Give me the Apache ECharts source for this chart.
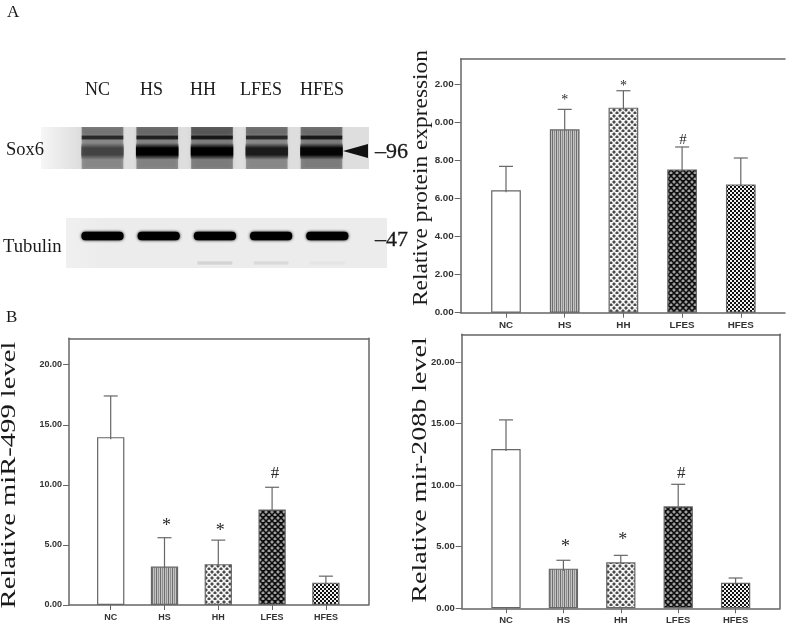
<!DOCTYPE html>
<html>
<head>
<meta charset="utf-8">
<style>
  html, body { margin: 0; background: #fff; }
  #chart { width: 787px; height: 631px; }
</style>
<script src="https://cdn.jsdelivr.net/npm/echarts@6/dist/echarts.min.js"></script>
</head>
<body>
<div id="chart"></div>
<script>
const categories = ['NC', 'HS', 'HH', 'LFES', 'HFES'];

// protein panel: the source figure has the leading digit of 12.00 / 10.00 cut off
const proteinMeans = [6.44, 9.65, 10.79, 7.54, 6.75];
const proteinUpper = [7.7, 10.7, 11.68, 8.72, 8.14];
const proteinTicks = [0, 2, 4, 6, 8, 10, 12];
const proteinTickLabels = ['0.00', '2.00', '4.00', '6.00', '8.00', '0.00', '2.00'];
const proteinMarks = [[1, 11.3, '*'], [2, 12.0, '*'], [3, 9.14, '#']];

const mir499Means = [13.97, 3.2, 3.4, 7.95, 1.86];
const mir499Upper = [17.4, 5.6, 5.4, 9.8, 2.4];
const mir499Marks = [[1, 6.9, '*'], [2, 6.45, '*'], [3, 11, '#']];

const mir208Means = [12.94, 3.22, 3.73, 8.28, 2.08];
const mir208Upper = [15.3, 3.9, 4.3, 10.07, 2.46];
const mir208Marks = [[1, 5.28, '*'], [2, 5.82, '*'], [3, 11.04, '#']];

const mirTicks = [0, 5, 10, 15, 20];
const mirTickLabels = ['0.00', '5.00', '10.00', '15.00', '20.00'];

// blot band darkness per lane, 0 = nothing, 1 = black
const sox6Lanes = [0.32, 0.34, 0.36, 0.32, 0.36];
const sox6TopSmear = [0.15, 0.2, 0.3, 0.2, 0.15];
const sox6UpperBand = [0.7, 0.75, 0.8, 0.7, 0.8];
const sox6LowerBand = [0.5, 1, 1, 0.8, 0.97];
const tubulinBand = [1, 1, 1, 1, 1];
const tubulinFaint = [0, 0, 0.1, 0.08, 0.03];

const AXIS_COLOR = '#666666';
const SERIF = '"Liberation Serif", serif';
const SANS = '"Liberation Sans", Arial, sans-serif';

function patternCanvas(size, draw) {
  const c = document.createElement('canvas');
  c.width = size;
  c.height = size;
  draw(c.getContext('2d'));
  return { image: c, repeat: 'repeat' };
}

function fill(ctx, color, cells) {
  ctx.fillStyle = color;
  cells.forEach(([x, y, w, h]) => ctx.fillRect(x, y, w, h));
}

// small square dots on a diagonal lattice, with a softer halo round each
function latticeDots(ctx, core, halo) {
  fill(ctx, halo, [[0, 1, 4, 2], [1, 0, 2, 4], [3, 4, 4, 2], [4, 3, 2, 4], [-3, 4, 4, 2]]);
  fill(ctx, core, [[1, 1, 2, 2], [4, 4, 2, 2]]);
}

const patterns = [
  '#ffffff',
  patternCanvas(4, (ctx) => {
    fill(ctx, '#c4c4c4', [[0, 0, 4, 4]]);
    fill(ctx, '#6e6e6e', [[0, 0, 1, 4]]);
    fill(ctx, '#8e8e8e', [[2, 0, 1, 4]]);
  }),
  patternCanvas(6, (ctx) => {
    fill(ctx, '#f6f6f6', [[0, 0, 6, 6]]);
    latticeDots(ctx, '#4a4a4a', '#a8a8a8');
  }),
  patternCanvas(6, (ctx) => {
    fill(ctx, '#0e0e0e', [[0, 0, 6, 6]]);
    latticeDots(ctx, '#a0a0a0', '#4a4a4a');
  }),
  patternCanvas(4, (ctx) => {
    fill(ctx, '#f2f2f2', [[0, 0, 4, 4]]);
    fill(ctx, '#111111', [[0, 0, 2, 2], [2, 2, 2, 2]]);
  }),
];

const grid = [];
const xAxis = [];
const yAxis = [];
const series = [];

function addBarPanel(p) {
  const g = grid.length;
  const xMin = (p.left - p.firstCenter) / p.spacing;
  const xMax = (p.left + p.width - p.firstCenter) / p.spacing;
  grid.push({ left: p.left, top: p.top, width: p.width, height: p.height });

  const line = { show: true, onZero: false, lineStyle: { color: AXIS_COLOR, width: 1.5 } };
  const tick = { show: true, length: 6, lineStyle: { color: AXIS_COLOR, width: 1 } };
  const xIdx = xAxis.length;
  const yIdx = yAxis.length;

  xAxis.push({
    type: 'value', gridIndex: g, min: xMin, max: xMax, position: 'bottom',
    splitLine: { show: false }, axisLine: line,
    axisTick: { ...tick, length: 5, customValues: categories.map((c, i) => i) },
    axisLabel: {
      customValues: categories.map((c, i) => i), formatter: (v) => categories[v],
      fontFamily: SANS, fontSize: p.fontSize, fontWeight: 'bold', color: '#333', margin: p.xMargin,
      showMinLabel: true, showMaxLabel: true,
    },
  });
  // frame: top edge on every panel, right edge only where the source has one
  xAxis.push({
    type: 'value', gridIndex: g, min: xMin, max: xMax, position: 'top',
    splitLine: { show: false }, axisLine: line, axisTick: { show: false }, axisLabel: { show: false },
  });
  yAxis.push({
    type: 'value', gridIndex: g, min: 0, max: p.yMax, position: 'left',
    splitLine: { show: false }, axisLine: line,
    axisTick: { ...tick, customValues: p.ticks },
    axisLabel: {
      customValues: p.ticks, formatter: (v) => p.tickLabels[p.ticks.indexOf(v)],
      fontFamily: SANS, fontSize: p.fontSize, fontWeight: 'bold', color: '#333', margin: 7,
    },
  });
  yAxis.push({
    type: 'value', gridIndex: g, min: 0, max: p.yMax, position: 'right',
    splitLine: { show: false }, axisLine: { ...line, show: p.rightEdge },
    axisTick: { show: false }, axisLabel: { show: false },
  });

  series.push({
    type: 'bar', xAxisIndex: xIdx, yAxisIndex: yIdx, barWidth: p.barWidth, silent: true,
    data: p.means.map((v, i) => ({
      value: [i, v],
      itemStyle: { color: patterns[i], borderColor: AXIS_COLOR, borderWidth: 1.2 },
    })),
  });
  series.push({
    type: 'custom', xAxisIndex: xIdx, yAxisIndex: yIdx, silent: true, z: 3,
    data: p.means.map((v, i) => [i, v, p.upper[i]]),
    renderItem: (params, api) => {
      const base = api.coord([api.value(0), api.value(1)]);
      const top = api.coord([api.value(0), api.value(2)]);
      const style = { stroke: AXIS_COLOR, lineWidth: 1.2, fill: null };
      return {
        type: 'group',
        children: [
          { type: 'line', shape: { x1: base[0], y1: base[1] + 2, x2: top[0], y2: top[1] }, style },
          { type: 'line', shape: { x1: top[0] - 7, y1: top[1], x2: top[0] + 7, y2: top[1] }, style },
        ],
      };
    },
  });
  series.push({
    type: 'custom', xAxisIndex: xIdx, yAxisIndex: yIdx, silent: true, z: 4, clip: false,
    data: p.marks,
    renderItem: (params, api) => {
      const pos = api.coord([api.value(0), api.value(1)]);
      const mark = p.marks[params.dataIndex][2];
      return {
        type: 'text',
        x: pos[0] + p.markShift + (mark === '#' ? 1 : 0),
        y: pos[1] + (mark === '*' ? p.starLift : 1),
        style: {
          text: mark, align: 'center', verticalAlign: 'middle',
          font: (mark === '*' ? p.starSize : p.hashSize) + 'px ' + SERIF, fill: '#2a2a2a',
        },
      };
    },
  });
}

addBarPanel({
  left: 460.7, top: 59, width: 324.3, height: 253.7, yMax: 13.35,
  firstCenter: 506, spacing: 58.7, barWidth: 29.7, fontSize: 9.8, xMargin: 8,
  ticks: proteinTicks, tickLabels: proteinTickLabels,
  means: proteinMeans, upper: proteinUpper, marks: proteinMarks,
  rightEdge: false, markShift: 0, starSize: 14, hashSize: 15, starLift: 2,
});
addBarPanel({
  left: 69, top: 338.3, width: 299.3, height: 266.7, yMax: 22.2,
  firstCenter: 110.7, spacing: 53.8, barWidth: 27.3, fontSize: 9, xMargin: 8,
  ticks: mirTicks, tickLabels: mirTickLabels,
  means: mir499Means, upper: mir499Upper, marks: mir499Marks,
  rightEdge: true, markShift: 2, starSize: 18, hashSize: 17, starLift: 4,
});
addBarPanel({
  left: 461.7, top: 334.3, width: 318.3, height: 274, yMax: 22.25,
  firstCenter: 506, spacing: 57.4, barWidth: 29.3, fontSize: 9.5, xMargin: 7,
  ticks: mirTicks, tickLabels: mirTickLabels,
  means: mir208Means, upper: mir208Upper, marks: mir208Marks,
  rightEdge: true, markShift: 2, starSize: 18, hashSize: 17, starLift: 4,
});

function addBlotGrid(b) {
  const g = grid.length;
  grid.push({
    show: true, borderWidth: 0, left: b.left, top: b.top, width: b.width, height: b.height,
    backgroundColor: {
      type: 'linear', x: 0, y: 0, x2: 1, y2: 0,
      colorStops: [{ offset: 0, color: b.fadeFrom }, { offset: 0.12, color: b.fadeTo }, { offset: 1, color: b.fadeTo }],
    },
  });
  xAxis.push({
    show: false, type: 'value', gridIndex: g,
    min: (b.left - b.firstCenter) / b.spacing,
    max: (b.left + b.width - b.firstCenter) / b.spacing,
  });
  yAxis.push({ show: false, type: 'value', gridIndex: g, min: 0, max: 1, inverse: true });
  return xAxis.length - 1;
}

// one row of blot bands, one band per lane; soft top and bottom through a gradient
function addBands(axisIdx, values, yCenter, bandHeight, bandWidth, opts) {
  series.push({
    type: 'custom', xAxisIndex: axisIdx, yAxisIndex: axisIdx, silent: true, clip: true,
    data: values.map((v, i) => [i, v]),
    renderItem: (params, api) => {
      const c = api.coord([api.value(0), yCenter]);
      const s = api.size([bandWidth, bandHeight]);
      const ink = api.value(1);
      const solid = `rgba(0,0,0,${ink})`;
      const fillStyle = opts.soft
        ? {
            type: 'linear', x: 0, y: 0, x2: 0, y2: 1,
            colorStops: [
              { offset: 0, color: 'rgba(0,0,0,0)' },
              { offset: 0.3, color: solid },
              { offset: 0.7, color: solid },
              { offset: 1, color: 'rgba(0,0,0,0)' },
            ],
          }
        : solid;
      return {
        type: 'rect',
        shape: { x: c[0] - s[0] / 2, y: c[1] - s[1] / 2, width: s[0], height: s[1], r: opts.round || 0 },
        style: { fill: fillStyle, shadowBlur: opts.blur || 0, shadowColor: solid },
      };
    },
  });
}

const sox6Axis = addBlotGrid({
  left: 41, top: 127, width: 328, height: 42, firstCenter: 102.5, spacing: 54.75,
  fadeFrom: '#f6f6f6', fadeTo: '#dedede',
});
addBands(sox6Axis, sox6Lanes, 0.5, 1.02, 0.76, { blur: 3 });
addBands(sox6Axis, sox6TopSmear, 0.08, 0.36, 0.76, { soft: true });
addBands(sox6Axis, sox6UpperBand, 0.25, 0.13, 0.76, { soft: true });
addBands(sox6Axis, sox6LowerBand, 0.58, 0.4, 0.78, { soft: true });

const tubulinAxis = addBlotGrid({
  left: 66, top: 218, width: 321, height: 50, firstCenter: 102.5, spacing: 56.2,
  fadeFrom: '#f0f0f0', fadeTo: '#ececec',
});
addBands(tubulinAxis, tubulinBand, 0.36, 0.17, 0.75, { blur: 3, round: 4 });
addBands(tubulinAxis, tubulinFaint, 0.9, 0.1, 0.62, { soft: true });

function serifText(text, x, y, size, extra) {
  return {
    type: 'text', x, y, z: 10,
    style: {
      text, font: size + 'px ' + SERIF, fill: '#1a1a1a',
      textAlign: 'left', textVerticalAlign: 'middle',
      ...extra,
    },
  };
}

function axisTitle(text, x, y, stretch) {
  return {
    type: 'text', x, y, z: 10, rotation: Math.PI / 2, scaleX: stretch,
    style: {
      text, font: '20px ' + SERIF, fill: '#1a1a1a',
      textAlign: 'center', textVerticalAlign: 'middle',
    },
  };
}

const option = {
  animation: false,
  backgroundColor: '#fff',
  grid, xAxis, yAxis, series,
  graphic: [
    serifText('A', 7, 13, 17),
    serifText('B', 6, 318, 17),
    serifText('NC', 85, 90, 18),
    serifText('HS', 140, 90, 18),
    serifText('HH', 190, 90, 18),
    serifText('LFES', 240, 90, 18),
    serifText('HFES', 300, 90, 18),
    serifText('Sox6', 6, 150, 18.5),
    serifText('Tubulin', 3, 247, 18.7),
    serifText('\u201396', 375, 152, 22, { stroke: '#1a1a1a', lineWidth: 0.3 }),
    serifText('\u201347', 375, 240, 22, { stroke: '#1a1a1a', lineWidth: 0.3 }),
    {
      type: 'polygon', z: 10,
      shape: { points: [[343, 151], [368, 144], [368, 158]] },
      style: { fill: '#111' },
    },
    axisTitle('Relative protein expression', 421.7, 178, 1.17),
    axisTitle('Relative miR-499 level', 9.5, 475, 1.43),
    axisTitle('Relative mir-208b level', 421, 470, 1.4),
  ],
};

const chart = echarts.init(document.getElementById('chart'), null, { renderer: 'canvas' });
chart.setOption(option);
</script>
</body>
</html>
